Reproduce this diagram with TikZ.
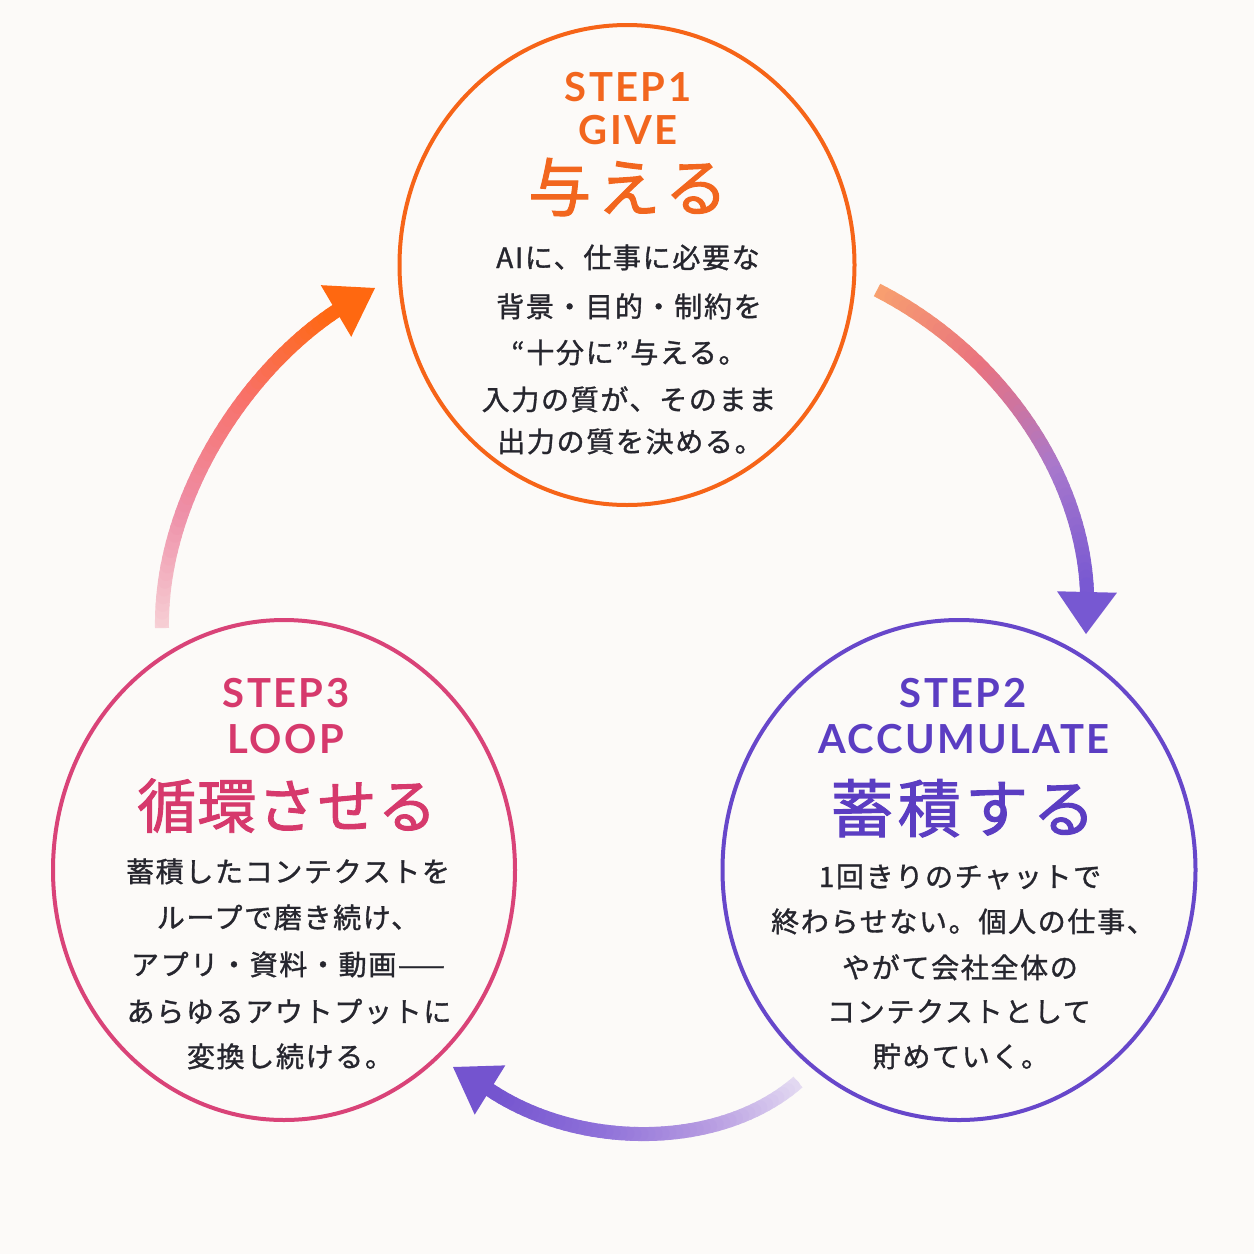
\documentclass[tikz,border=0pt]{standalone}
\usepackage{fontspec}
\usetikzlibrary{shapes.geometric,calc}
\newfontfamily\jpbody[LetterSpace=6,FakeBold=1.2]{Noto Sans CJK JP}
\newfontfamily\jptA[LetterSpace=10,FakeBold=1.6]{Noto Sans CJK JP}
\newfontfamily\jptB[LetterSpace=7,FakeBold=1.6]{Noto Sans CJK JP}
\newfontfamily\jptC[LetterSpace=2,FakeBold=1.6]{Noto Sans CJK JP}
\newfontfamily\lat[LetterSpace=6]{Lato}
\definecolor{bg}{HTML}{FCFAF8}
\definecolor{ink}{HTML}{26262E}
\definecolor{orgT}{HTML}{F2661E}
\definecolor{orgC}{HTML}{F66418}
\definecolor{purT}{HTML}{5B3DC2}
\definecolor{purC}{HTML}{6747CA}
\definecolor{pnkT}{HTML}{D6396C}
\definecolor{pnkC}{HTML}{D94378}
% arrow 1 stops
\definecolor{aA}{HTML}{F9A36E}
\definecolor{aB}{HTML}{E9727F}
\definecolor{aC}{HTML}{A878CC}
\definecolor{aD}{HTML}{7758D2}
% arrow 2 stops
\definecolor{bA}{HTML}{E6DEF3}
\definecolor{bB}{HTML}{B79CE1}
\definecolor{bC}{HTML}{8E70D9}
\definecolor{bD}{HTML}{7454CF}
% arrow 3 stops
\definecolor{cA}{HTML}{F7D3D8}
\definecolor{cB}{HTML}{EE8FA8}
\definecolor{cC}{HTML}{F8716A}
\definecolor{cD}{HTML}{FF6810}
\newcommand{\gradshaft}[8]{%
  \path (#1) .. controls (#2) and (#3) .. (#4)
    foreach \t [evaluate=\t as \tp using \t/48] in {0,...,48} {coordinate[pos=\tp] (gq\t)};
  \foreach \i in {0,...,47} {
    \pgfmathtruncatemacro{\j}{\i+1}
    \pgfmathsetmacro{\f}{3*(\i+0.5)/48}
    \pgfmathtruncatemacro{\sg}{min(floor(\f),2)}
    \pgfmathsetmacro{\lp}{100*(\f-\sg)}
    \ifcase\sg \colorlet{segc}{#6!\lp!#5}\or \colorlet{segc}{#7!\lp!#6}\or \colorlet{segc}{#8!\lp!#7}\fi
    \ifnum\i=0 \def\capst{butt}\else\def\capst{round}\fi
    \draw[line width=14pt, draw=segc, line cap=\capst] (gq\i) -- (gq\j);
  }%
}
\newcommand{\headtip}[4]{% base centre, tip, colour, half width
  \fill[#3] (#2) -- ($(#1)!#4!90:(#2)$) -- ($(#1)!#4!-90:(#2)$) -- cycle;
}
\tikzset{
  ring/.style={draw=#1, line width=4pt, ellipse, inner sep=0pt},
  head/.style={anchor=base, inner sep=0pt, text=#1, font=\lat\bfseries\fontsize{40}{44}\selectfont},
  title/.style={anchor=base, inner sep=0pt, text=#1},
  body/.style={anchor=base, inner sep=0pt, text=ink, font=\jpbody\fontsize{28}{32}\selectfont},
}
\begin{document}
\begin{tikzpicture}[x=1pt,y=-1pt]
\useasboundingbox (0,0) rectangle (1254,1254);
\fill[bg] (0,0) rectangle (1254,1254);

% circles
\node[ring=orgC, minimum width=455pt, minimum height=480pt] (s1) at (627,265) {};
\node[ring=purC, minimum width=473pt, minimum height=500pt] (s2) at (959,870) {};
\node[ring=pnkC, minimum width=462pt, minimum height=500pt] (s3) at (284,870) {};

% STEP1
\node[head=orgT] (h1a) at (628,101) {STEP1};
\node[head=orgT] (h1b) at (628,144) {GIVE};
\node[title=orgT, font=\jptA\fontsize{63}{70}\selectfont] (t1) at (628,211) {与える};
\node[body] (b1a) at (628,268) {AIに、仕事に必要な};
\node[body] (b1b) at (629,317) {背景・目的・制約を};
\node[body] (b1c) at (629,363) {“十分に”与える。};
\node[body] (b1d) at (629,410) {入力の質が、そのまま};
\node[body] (b1e) at (630,452) {出力の質を決める。};

% STEP2
\node[head=purT] (h2a) at (963,707) {STEP2};
\node[head=purT] (h2b) at (964,753) {ACCUMULATE};
\node[title=purT, font=\jptB\fontsize{63}{70}\selectfont] (t2) at (963,832) {蓄積する};
\node[body] (b2a) at (960,887) {1回きりのチャットで};
\node[body] (b2b) at (963,932) {終わらせない。個人の仕事、};
\node[body] (b2c) at (960,978) {やがて会社全体の};
\node[body] (b2d) at (959,1022) {コンテクストとして};
\node[body] (b2e) at (961,1067) {貯めていく。};

% STEP3
\node[head=pnkT] (h3a) at (286,707) {STEP3};
\node[head=pnkT] (h3b) at (286,753) {LOOP};
\node[title=pnkT, font=\jptC\fontsize{59}{66}\selectfont] (t3) at (287,828) {循環させる};
\node[body] (b3a) at (288,882) {蓄積したコンテクストを};
\node[body] (b3b) at (288,928) {ループで磨き続け、};
\node[body] (b3c) at (288,975) {アプリ・資料・動画——};
\node[body] (b3d) at (289,1022) {あらゆるアウトプットに};
\node[body] (b3e) at (290,1067) {変換し続ける。};

% arrow 1: STEP1 -> STEP2
\coordinate (a1s) at (877,290);
\coordinate (a1e) at (1087,592);
\coordinate (a1t) at (1086,634);
\gradshaft{a1s}{995,350}{1082,470}{a1e}{aA}{aB}{aC}{aD}
\headtip{a1e}{a1t}{aD}{30pt}

% arrow 2: STEP2 -> STEP3
\coordinate (a2s) at (798,1082);
\coordinate (a2e) at (490,1090);
\coordinate (a2t) at (453,1067);
\gradshaft{a2s}{720,1150}{580,1150}{a2e}{bA}{bB}{bC}{bD}
\headtip{a2e}{a2t}{bD}{29pt}

% arrow 3: STEP3 -> STEP1
\coordinate (a3s) at (162,628);
\coordinate (a3e) at (336,311);
\coordinate (a3t) at (375,288);
\gradshaft{a3s}{160,505}{240,375}{a3e}{cA}{cB}{cC}{cD}
\headtip{a3e}{a3t}{cD}{30pt}
\end{tikzpicture}
\end{document}
